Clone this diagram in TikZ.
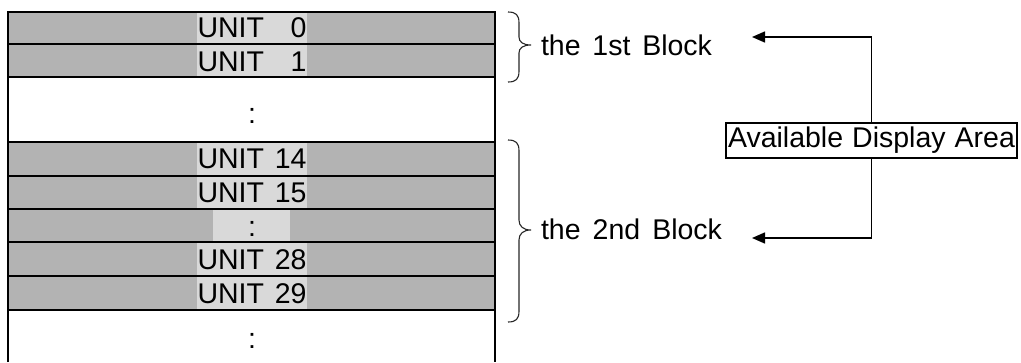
\documentclass[tikz,border=0pt]{standalone}
\usepackage{fontspec}
\setmainfont{Liberation Sans}
\usetikzlibrary{arrows.meta}
\definecolor{rowgray}{HTML}{B3B3B3}
\definecolor{hlgray}{HTML}{D9D9D9}
\begin{document}
\begin{tikzpicture}[x=1pt,y=-1pt,
  every node/.style={font=\fontsize{28.5}{32}\selectfont, inner sep=0pt, outer sep=0pt},
  grid/.style={line width=2.6pt},
  bracestyle/.style={line width=1.1pt, draw=black!85},
  conn/.style={line width=1.5pt, -{Triangle[length=13pt,width=11pt]}},
  areabox/.style={draw, line width=2pt, minimum width=291pt, minimum height=35pt}]
\useasboundingbox (0,0) rectangle (1021,362);
% row fills
\foreach \t/\b in {12/44,44/77,142/176,176/209,209/242,242/276,276/310}
  \fill[rowgray] (8,\t) rectangle (495,\b);
\foreach \t/\b in {12/44,44/77,142/176,176/209,242/276,276/310}
  \fill[hlgray] (197,\t) rectangle (307,\b);
\fill[hlgray] (213,209) rectangle (290,242);
% labels
\node (u0) [anchor=base] at (252,37.5) {\makebox[109pt]{UNIT\hfill 0}};
\node (u1) [anchor=base] at (252,71) {\makebox[109pt]{UNIT\hfill 1}};
\node (d1) [anchor=base] at (252,123) {:};
\node (u14) [anchor=base] at (252,168) {\makebox[109pt]{UNIT\hfill 14}};
\node (u15) [anchor=base] at (252,202) {\makebox[109pt]{UNIT\hfill 15}};
\node (d2) [anchor=base] at (252,236) {:};
\node (u28) [anchor=base] at (252,269) {\makebox[109pt]{UNIT\hfill 28}};
\node (u29) [anchor=base] at (252,303) {\makebox[109pt]{UNIT\hfill 29}};
\node (d3) [anchor=base] at (252,348) {:};
% grid lines
\draw[grid] (8,362) -- (8,12) -- (495,12) -- (495,362);
\foreach \y in {44,77,142,176,209,242,276,310}
  \draw[grid] (8,\y) -- (495,\y);
% braces
\draw[bracestyle] (508,12) .. controls (516,12) and (519,15) .. (519,23) -- (519,37)
  .. controls (519,42) and (523,45) .. (531,45)
  .. controls (523,45) and (519,48) .. (519,53) -- (519,71)
  .. controls (519,79) and (516,82) .. (508,82);
\draw[bracestyle] (508,140) .. controls (516,140) and (519,143) .. (519,151) -- (519,220)
  .. controls (519,226) and (523,230) .. (531,230)
  .. controls (523,230) and (519,234) .. (519,240) -- (519,311)
  .. controls (519,319) and (516,322) .. (508,322);
\node (b1) [anchor=base west] at (541,55) {\makebox[171pt][s]{the 1st Block}};
\node (b2) [anchor=base west] at (541,239) {\makebox[181pt][s]{the 2nd Block}};
% available display area
\node (ada) [areabox] at (871.5,140.5) {\makebox[287pt][s]{Available Display Area}};
\coordinate (t1) at (752,37);
\coordinate (t2) at (752,238);
\draw[conn] (ada.north) |- (t1);
\draw[conn] (ada.south) |- (t2);
\end{tikzpicture}
\end{document}
